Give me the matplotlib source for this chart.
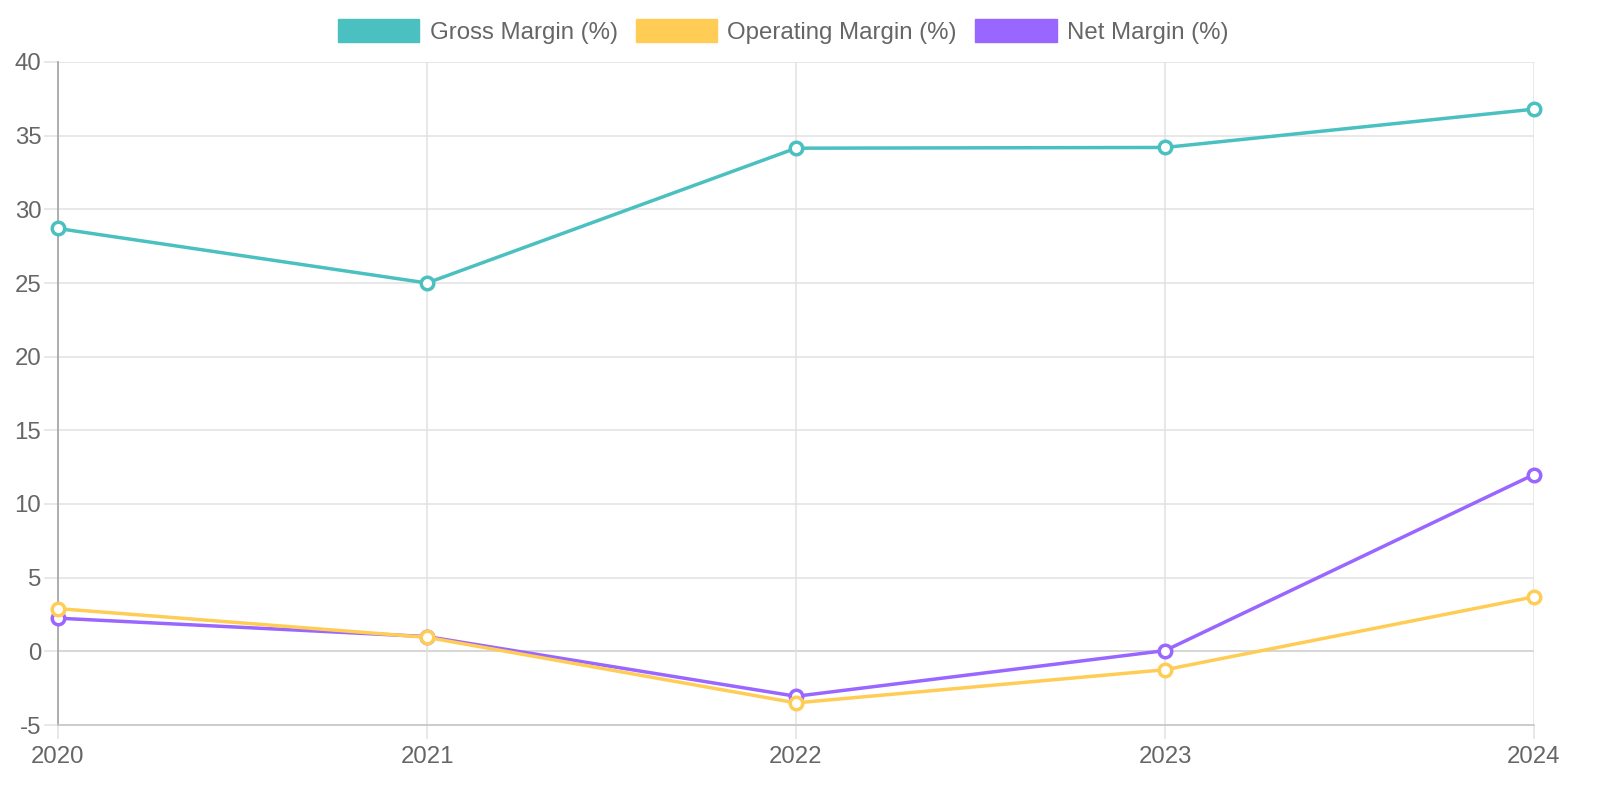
import matplotlib
matplotlib.use("Agg")
from matplotlib import pyplot as plt
import matplotlib.patches as mpatches

years = ["2020", "2021", "2022", "2023", "2024"]
gross = [28.7, 25.0, 34.15, 34.2, 36.8]
operating = [2.9, 0.95, -3.5, -1.25, 3.7]
net = [2.25, 1.0, -3.05, 0.05, 12.0]

series_names = ["Gross Margin (%)", "Operating Margin (%)", "Net Margin (%)"]
colors = ["#4BC0C0", "#FFCD56", "#9966FF"]

plt.rcParams['font.family'] = ['Liberation Sans', 'DejaVu Sans']

fig = plt.figure(figsize=(16, 8), dpi=100)
ax = fig.add_axes([58 / 1600, 1 - 725 / 800, (1534 - 58) / 1600, (725 - 62) / 800])

x = list(range(len(years)))
all_series = [gross, operating, net]
for i, (vals, col) in enumerate(zip(all_series, colors)):
  ax.plot(x, vals, color=col, linewidth=2.5, marker='o', markersize=9,
          markerfacecolor='white', markeredgecolor=col, markeredgewidth=2.5,
          zorder=10 - i, clip_on=False)

ax.set_xlim(0, len(years) - 1)
ax.set_ylim(-5, 40)
ax.set_xticks(x)
ax.set_xticklabels(years)
ax.set_yticks(range(-5, 41, 5))
ax.set_yticklabels([str(v) for v in range(-5, 41, 5)])

ax.grid(True, color='#e1e1e1', linewidth=1.1, zorder=0)
ax.axhline(0, color='#b0b0b0', linewidth=1.3, zorder=1)
for s in ['top', 'right']:
  ax.spines[s].set_visible(False)
ax.spines['left'].set_color('#a8a8a8')
ax.spines['left'].set_linewidth(1.3)
ax.spines['bottom'].set_color('#c8c8c8')
ax.spines['bottom'].set_linewidth(1.3)

ax.tick_params(axis='x', length=10, color='#e1e1e1', width=1.1, labelsize=17.3, labelcolor='#666666', pad=5)
ax.tick_params(axis='y', length=10, color='#e1e1e1', width=1.1, labelsize=17.3, labelcolor='#666666', pad=2)

handles = [mpatches.Patch(facecolor=c, edgecolor=c, label=n) for c, n in zip(colors, series_names)]
fig.legend(handles=handles, loc='center', bbox_to_anchor=(783 / 1600, 1 - 31.5 / 800), ncol=3, frameon=False,
           fontsize=17.3, handlelength=3.4, handleheight=1.1, handletextpad=0.42, columnspacing=0.75,
           labelcolor='#666666', borderaxespad=0, borderpad=0)

fig.savefig("out.png", dpi=100, facecolor='white')
